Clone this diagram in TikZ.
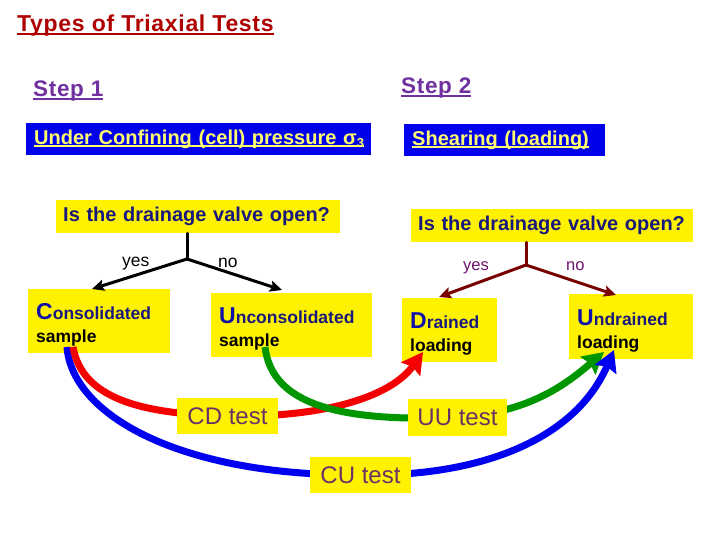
\documentclass[tikz,border=0pt]{standalone}
\usepackage{fontspec}
\setmainfont{Liberation Sans}
\usetikzlibrary{arrows.meta}
\pgfdeclarelayer{boxes}
\pgfdeclarelayer{curves}
\pgfsetlayers{boxes,curves,main}
\definecolor{ttl}{RGB}{175,0,0}
\definecolor{stp}{RGB}{112,48,160}
\definecolor{bbl}{RGB}{0,0,235}
\definecolor{lyel}{RGB}{255,255,110}
\definecolor{qnavy}{RGB}{25,25,125}
\definecolor{bigb}{RGB}{15,15,170}
\definecolor{tst}{RGB}{102,51,102}
\definecolor{dred}{RGB}{120,0,0}
\definecolor{ppl}{RGB}{110,20,110}
\definecolor{cgreen}{RGB}{0,150,0}
\definecolor{cblue}{RGB}{0,0,240}
\definecolor{cred}{RGB}{245,0,0}
\newsavebox\myulbox
\newcommand\fs[2]{\fontsize{#1}{#2}\selectfont}
\newcommand\ulx[3]{\sbox\myulbox{#3}\rlap{\rule[\dimexpr-#1-#2\relax]{\wd\myulbox}{#2}}\usebox\myulbox}
\newcommand\catfirst[2]{\rule{0pt}{24pt}{\color{bigb}\fs{23}{23}#1}{\color{qnavy}#2}}
\begin{document}
\begin{tikzpicture}[x=1pt,y=-1pt,
  bbox/.style={fill=bbl, text=lyel, font=\bfseries\fs{20}{24}, anchor=north west, minimum height=32pt, inner xsep=8pt, inner ysep=0pt, align=left},
  qbox/.style={fill=yellow, text=qnavy, font=\bfseries\fs{20}{24}, anchor=north west, minimum height=33pt, inner xsep=7pt, inner ysep=0pt, align=left},
  cbox/.style={fill=yellow, anchor=north west, minimum height=64pt, inner xsep=8pt, inner ysep=0pt, align=left, font=\bfseries\fs{17.5}{23}},
  tbox/.style={fill=yellow, text=tst, font=\fs{24}{27}, minimum width=101pt, minimum height=36pt, inner sep=0pt},
  lbl/.style={anchor=base west, inner sep=0pt},
  treeline/.style={line width=3pt, line cap=round},
  treearrow/.style={line width=3pt, line cap=round, -{Stealth[length=12pt,width=11pt,inset=2pt]}},
  curve/.style={line width=7pt},
  bigtip/.style={-{Stealth[length=21pt,width=23pt,inset=3pt]}}]
\useasboundingbox (0,0) rectangle (720,540);
\begin{pgfonlayer}{boxes}
\fill[white] (0,0) rectangle (720,540);
\end{pgfonlayer}

% headings
\node[lbl, text=ttl, font=\bfseries\fs{23}{27}\addfontfeatures{LetterSpace=3}] (title) at (17,32) {\ulx{1pt}{2.2pt}{Types of Triaxial Tests}};
\node[lbl, text=stp, font=\bfseries\fs{22.5}{27}\addfontfeatures{LetterSpace=3}] (step1) at (33,97) {\ulx{1pt}{2pt}{Step 1}};
\node[lbl, text=stp, font=\bfseries\fs{22.5}{27}\addfontfeatures{LetterSpace=3}] (step2) at (401,94) {\ulx{1pt}{2pt}{Step 2}};

\node[bbox, text width=329pt] (conf) at (26,123) {\ulx{1pt}{1.6pt}{Under Confining (cell) pressure σ\raisebox{-3pt}{\fs{13}{13}3}}};
\node[bbox, text width=185pt] (shear) at (404,124) {\ulx{1pt}{1.6pt}{Shearing (loading)}};

\node[qbox, text width=270pt] (q1) at (56,200) {Is the drainage valve open?};
\node[qbox, text width=268pt] (q2) at (411,209) {Is the drainage valve open?};

% category boxes
\begin{pgfonlayer}{boxes}
\node[cbox, text width=126pt] (cons) at (28,289) {\catfirst{C}{onsolidated}\\sample};
\node[cbox, text width=145pt] (uncons) at (211,293) {\catfirst{U}{nconsolidated}\\sample};
\node[cbox, text width=79pt] (drained) at (402,298) {\catfirst{D}{rained}\\loading};
\node[cbox, text width=108pt, minimum height=65pt] (undrained) at (569,294) {\catfirst{U}{ndrained}\\loading};
\end{pgfonlayer}

% decision trees
\coordinate (j1) at (187,259);
\coordinate (t1) at (92,289);
\coordinate (t2) at (282,290);
\draw[treeline] (q1.south -| j1) -- (j1);
\draw[treearrow] (j1) -- (t1);
\draw[treearrow] (j1) -- (t2);
\node[lbl, font=\fs{17.5}{20}] (yes1) at (122,266) {yes};
\node[lbl, font=\fs{17.5}{20}] (no1) at (218,267) {no};

\coordinate (j2) at (526,265);
\coordinate (t3) at (439,297);
\coordinate (t4) at (616,295);
\draw[treeline, dred] (q2.south -| j2) -- (j2);
\draw[treearrow, dred] (j2) -- (t3);
\draw[treearrow, dred] (j2) -- (t4);
\node[lbl, text=ppl, font=\fs{16.5}{20}] (yes2) at (463,270) {yes};
\node[lbl, text=ppl, font=\fs{16.5}{20}] (no2) at (566,270) {no};

% test boxes
\node[tbox] (cd) at (227.5,416) {CD test};
\node[tbox, minimum width=99pt, minimum height=37pt] (uu) at (457.5,417.5) {UU test};
\node[tbox] (cu) at (360.5,475) {CU test};

% curves
\coordinate (rS) at (73,347);
\coordinate (bS) at (67,347);
\coordinate (gS) at (265,347);
\coordinate (rT) at (423,352);
\coordinate (gT) at (604,352);
\coordinate (bT) at (614,350);
\begin{pgfonlayer}{curves}
\draw[curve, cred, bigtip] (cd.center) .. controls (320,418) and (390,398) .. (rT);
\draw[curve, cblue] (bS) .. controls (72,415) and (180,476) .. (cu.center);
\draw[curve, cred] (rS) .. controls (82,398) and (140,414) .. (cd.center);
\draw[curve, cgreen] (gS) .. controls (272,405) and (340,422) .. (uu.center);
\draw[curve, cgreen, bigtip] (uu.center) .. controls (530,412) and (565,385) .. (gT);
\draw[curve, cblue, bigtip] (cu.center) .. controls (480,477) and (575,440) .. (bT);
\end{pgfonlayer}
\end{tikzpicture}
\end{document}
